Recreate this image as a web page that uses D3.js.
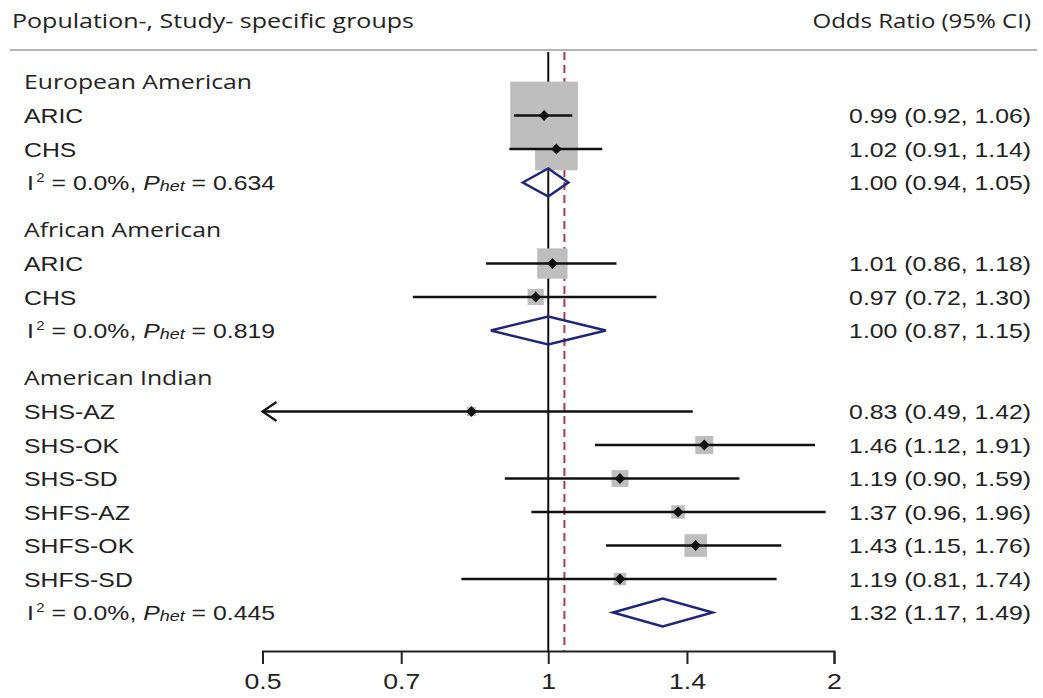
<!DOCTYPE html>
<html>
<head>
<meta charset="utf-8">
<script src="https://cdn.jsdelivr.net/npm/d3@7"></script>
<style>
  body { margin: 0; background: #fff; }
  svg { display: block; }
</style>
</head>
<body>
<svg id="chart" width="1043" height="698"></svg>
<script>
// data
const groups = ["European American", "African American", "American Indian"];
const studies = ["ARIC", "CHS", "ARIC", "CHS", "SHS-AZ", "SHS-OK", "SHS-SD", "SHFS-AZ", "SHFS-OK", "SHFS-SD"];
const studyGroup = [0, 0, 1, 1, 2, 2, 2, 2, 2, 2];
const studyOR = [0.99, 1.02, 1.01, 0.97, 0.83, 1.46, 1.19, 1.37, 1.43, 1.19];
const studyLo = [0.92, 0.91, 0.86, 0.72, 0.49, 1.12, 0.90, 0.96, 1.15, 0.81];
const studyHi = [1.06, 1.14, 1.18, 1.30, 1.42, 1.91, 1.59, 1.96, 1.76, 1.74];
const pooledOR = [1.00, 1.00, 1.32];
const pooledLo = [0.94, 0.87, 1.17];
const pooledHi = [1.05, 1.15, 1.49];
const pooledI2 = ["0.0%", "0.0%", "0.0%"];
const pooledPhet = ["0.634", "0.819", "0.445"];
const overallOR = 1.04;
const xTicks = [0.5, 0.7, 1, 1.4, 2];

const svg = d3.select("#chart");
const sx = 1.24; // the picture is stretched sideways
const sans = "'Liberation Sans', Arial, sans-serif";
const humanist = "'Open Sans', 'Noto Sans', sans-serif";

const x = d3.scaleLog().domain([0.5, 2]).range([262.5, 834]);
const axisY = 651;
const step = 33.5, groupGap = 14;
const rowY = d3.scaleLinear().domain([0, 1]).range([115.5, 115.5 + step]);

// build the rows: header, studies, pooled
const rows = [];
let i = -1;
groups.forEach((g, gi) => {
  rows.push({type: "head", label: g, y: rowY(i) + gi * groupGap});
  i++;
  studies.forEach((s, si) => {
    if (studyGroup[si] !== gi) return;
    rows.push({type: "study", label: s, or: studyOR[si], lo: studyLo[si], hi: studyHi[si], y: rowY(i) + gi * groupGap});
    i++;
  });
  rows.push({type: "pool", i2: pooledI2[gi], phet: pooledPhet[gi], or: pooledOR[gi], lo: pooledLo[gi], hi: pooledHi[gi], y: rowY(i) + gi * groupGap});
  i++;
});

function txt(xp, yp, anchor, font, size, k) {
  return svg.append("text")
    .attr("transform", `translate(${xp},${yp}) scale(${k || sx},1)`)
    .attr("text-anchor", anchor)
    .attr("font-family", font)
    .attr("font-size", size)
    .attr("fill", "#222");
}

// headers
txt(12, 28, "start", humanist, 20.5, 1.22).text("Population-, Study- specific groups");
txt(1031, 28, "end", humanist, 20, 1.2).text("Odds Ratio (95% CI)");
svg.append("line").attr("x1", 10).attr("x2", 1037).attr("y1", 50).attr("y2", 50)
  .attr("stroke", "#b4b4b4").attr("stroke-width", 2);

// reference lines
svg.append("line").attr("x1", x(1)).attr("x2", x(1)).attr("y1", 52).attr("y2", axisY)
  .attr("stroke", "#111").attr("stroke-width", 2);
svg.append("line").attr("x1", x(overallOR)).attr("x2", x(overallOR)).attr("y1", 52).attr("y2", axisY)
  .attr("stroke", "#a0404e").attr("stroke-width", 2).attr("stroke-dasharray", "8,5");

const f2 = d3.format(".2f");
const boxK = 9.6;
const [xmin, xmax] = x.domain();

rows.forEach(r => {
  if (r.type === "head") {
    txt(24, r.y + 7, "start", humanist, 20.3, 1.22).text(r.label);
    return;
  }
  txt(1031, r.y + 7.5, "end", sans, 20).text(`${f2(r.or)} (${f2(r.lo)}, ${f2(r.hi)})`);
  if (r.type === "study") {
    txt(24, r.y + 7.5, "start", sans, 20).text(r.label);
    const side = boxK / Math.log(r.hi / r.lo);
    svg.append("rect")
      .attr("x", x(r.or) - side / 2).attr("y", r.y - side / 2)
      .attr("width", side).attr("height", side)
      .attr("fill", "#bebebe");
  } else {
    const t = txt(27, r.y + 7.5, "start", sans, 20);
    t.append("tspan").text("I");
    t.append("tspan").attr("font-size", 12).attr("dx", 2).attr("dy", -8).text("2");
    t.append("tspan").attr("dy", 8).text(" = " + r.i2 + ",  ");
    t.append("tspan").attr("font-style", "italic").text("P");
    t.append("tspan").attr("font-style", "italic").attr("font-size", 14.5).attr("dy", 1).text("het");
    t.append("tspan").attr("dy", -1).text(" = " + r.phet);
  }
});

// CI lines and points (drawn over the boxes)
rows.filter(r => r.type === "study").forEach(r => {
  const lo = Math.max(r.lo, xmin), hi = Math.min(r.hi, xmax);
  svg.append("line").attr("x1", x(lo)).attr("x2", x(hi)).attr("y1", r.y).attr("y2", r.y)
    .attr("stroke", "#111").attr("stroke-width", 2.4);
  if (r.lo < xmin) {
    const ax = x(xmin);
    svg.append("path")
      .attr("d", `M${ax + 14},${r.y - 9.5}L${ax},${r.y}L${ax + 14},${r.y + 9.5}`)
      .attr("fill", "none").attr("stroke", "#111").attr("stroke-width", 2.2);
  }
  svg.append("path")
    .attr("transform", `translate(${x(r.or)},${r.y}) rotate(45)`)
    .attr("d", d3.symbol(d3.symbolSquare, 58)())
    .attr("fill", "#111");
});

// pooled diamonds
rows.filter(r => r.type === "pool").forEach(r => {
  const h = 14;
  svg.append("path")
    .attr("d", `M${x(r.lo)},${r.y}L${x(r.or)},${r.y - h}L${x(r.hi)},${r.y}L${x(r.or)},${r.y + h}Z`)
    .attr("fill", "none").attr("stroke", "#1f2778").attr("stroke-width", 2.5);
});

// x axis
const axis = svg.append("g")
  .attr("transform", `translate(0,${axisY})`)
  .call(d3.axisBottom(x).tickValues(xTicks).tickFormat(d3.format("")).tickSize(13).tickSizeOuter(13).tickPadding(10));
axis.select(".domain").attr("stroke", "#222").attr("stroke-width", 2);
axis.selectAll(".tick line").attr("stroke", "#222").attr("stroke-width", 2);
axis.selectAll(".tick text")
  .attr("font-family", sans).attr("font-size", 21.5).attr("fill", "#222")
  .attr("transform", `scale(${sx},1)`);
</script>
</body>
</html>
